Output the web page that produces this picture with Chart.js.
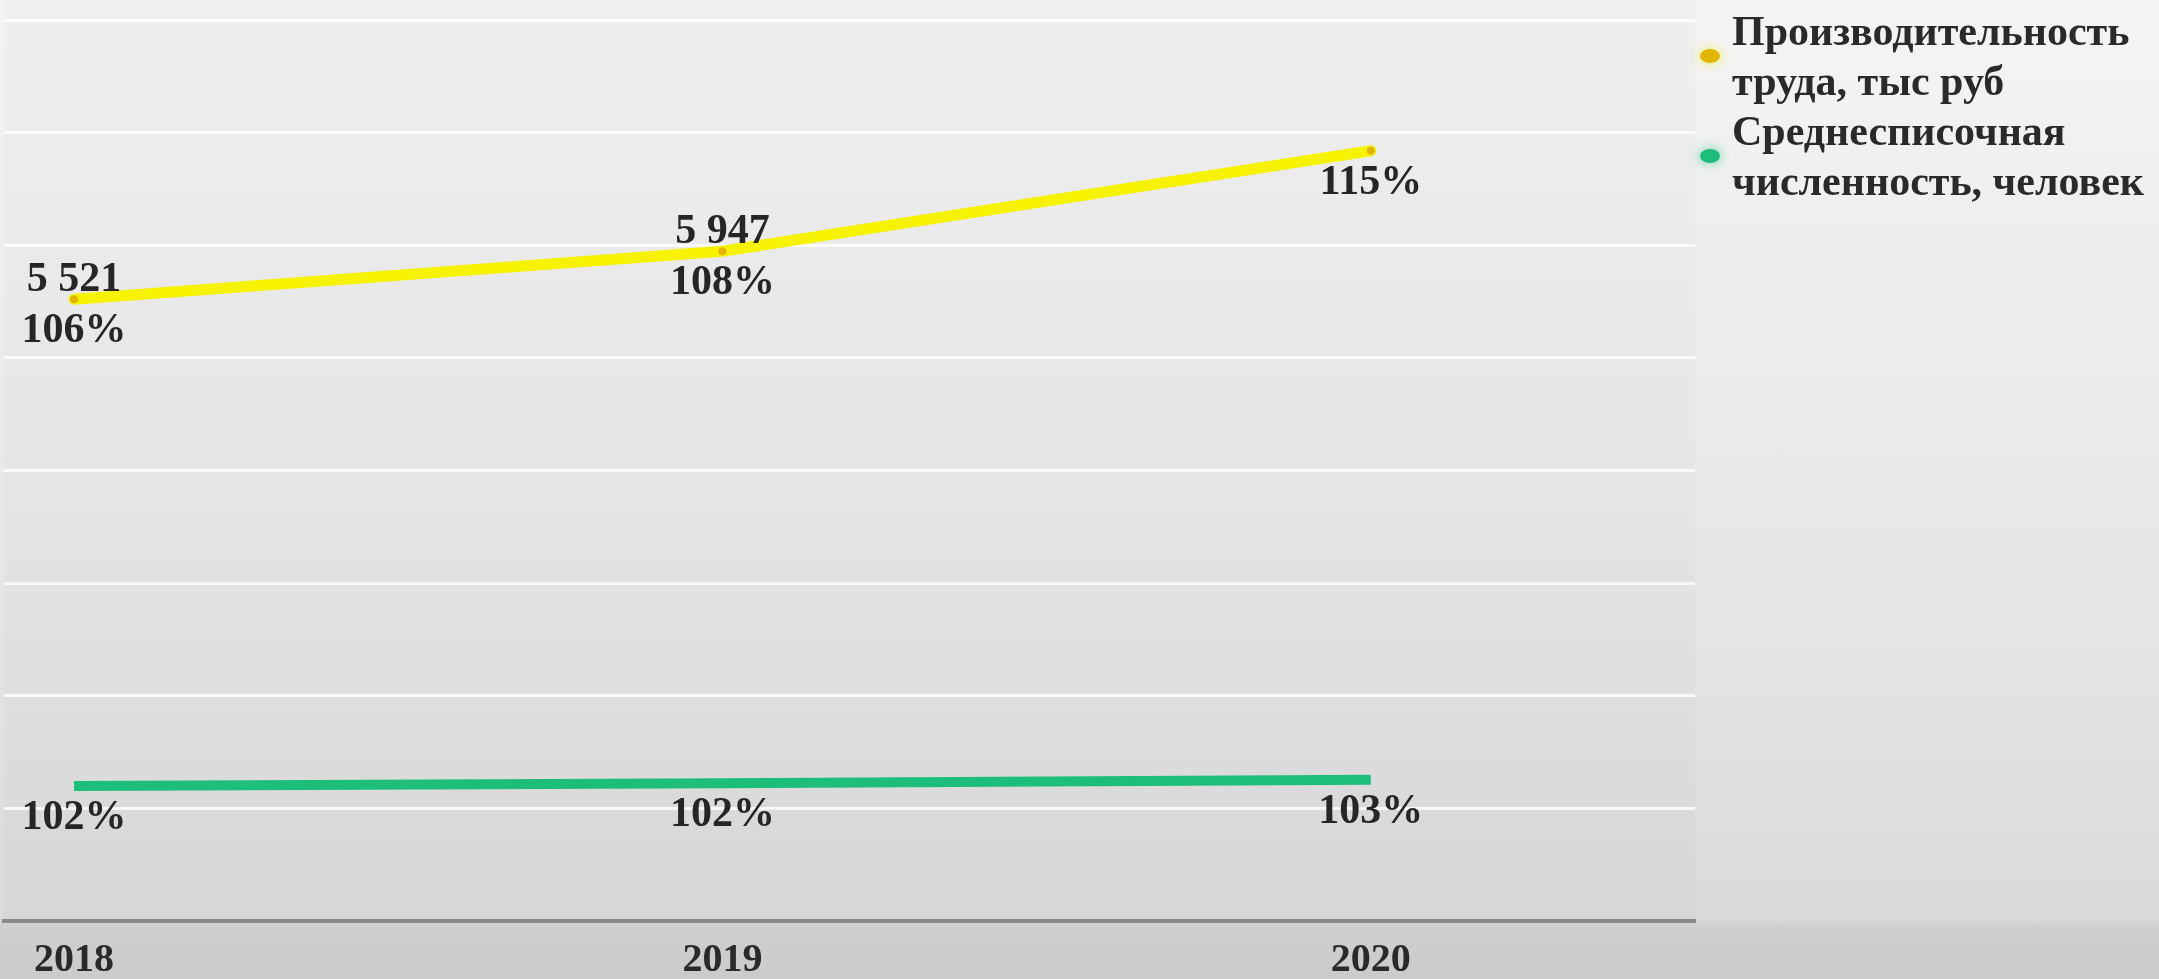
<!DOCTYPE html>
<html lang="ru">
<head>
<meta charset="utf-8">
<script src="https://cdn.jsdelivr.net/npm/chart.js@4"></script>
<style>
  html, body {
    margin: 0;
    padding: 0;
    width: 2159px;
    height: 979px;
    overflow: hidden;
    background: linear-gradient(to bottom, #f4f4f4 0px, #e6e6e6 600px, #dadada 918px, #cfcfcf 926px, #cbcbcb 979px);
  }
  #wrap { position: relative; width: 2159px; height: 979px; }
  canvas { position: absolute; left: 0; top: 0; }
  .legend {
    position: absolute;
    left: 1700px;
    top: 6px;
    font-family: "Liberation Serif", "DejaVu Serif", serif;
    font-weight: bold;
    font-size: 42px;
    line-height: 50px;
    color: #2a2a2a;
    white-space: nowrap;
  }
  .legend .item { position: relative; padding-left: 32px; }
  .legend .dot {
    position: absolute;
    left: 0;
    width: 20px;
    height: 14px;
    border-radius: 50%;
  }
</style>
</head>
<body>
<div id="wrap">
  <canvas id="chart" width="2159" height="979"></canvas>
  <div class="legend" id="legend"></div>
</div>
<script>
// данные
const years = [2018, 2019, 2020];
const productivity = [5521, 5947, 6839];          // тыс руб
const productivityGrowth = ['106%', '108%', '115%'];
const productivityValueShown = [true, true, false];
const headcount = [1199, 1223, 1255];              // человек
const headcountGrowth = ['102%', '102%', '103%'];
const yTicks = [0, 1000, 2000, 3000, 4000, 5000, 6000, 7000, 8000];

const seriesNames = [
    ['Производительность', 'труда, тыс руб'],
    ['Среднесписочная', 'численность, человек']
];
const seriesColors = ['#f6f200', '#1dbd7a'];
const pointColors = ['#e2b600', '#1dbd7a'];

// число с пробелом между разрядами
function formatNumber(v) {
    return String(v).replace(/\B(?=(\d{3})+(?!\d))/g, ' ');
}

// заливка области построения
const plotFill = {
    id: 'plotFill',
    beforeDraw(chart) {
        const { ctx, chartArea } = chart;
        const g = ctx.createLinearGradient(0, 0, 0, chartArea.bottom);
        g.addColorStop(0, '#efefef');
        g.addColorStop(0.5, '#e6e6e6');
        g.addColorStop(1, '#d6d6d6');
        ctx.save();
        ctx.fillStyle = g;
        ctx.fillRect(chartArea.left, 0, chartArea.right - chartArea.left, chartArea.bottom);
        ctx.restore();
    }
};

// подписи данных
const dataLabels = {
    id: 'dataLabels',
    afterDatasetsDraw(chart) {
        const ctx = chart.ctx;
        ctx.save();
        ctx.font = 'bold 42px "Liberation Serif", serif';
        ctx.fillStyle = '#262626';
        ctx.textAlign = 'center';
        ctx.textBaseline = 'alphabetic';

        const prod = chart.getDatasetMeta(0).data;
        prod.forEach((pt, i) => {
            if (productivityValueShown[i]) {
                ctx.fillText(formatNumber(productivity[i]), pt.x, pt.y - 8);
            }
            ctx.fillText(productivityGrowth[i], pt.x, pt.y + 43);
        });

        const head = chart.getDatasetMeta(1).data;
        head.forEach((pt, i) => {
            ctx.fillText(headcountGrowth[i], pt.x, pt.y + 43);
        });
        ctx.restore();
    }
};

const ctx = document.getElementById('chart').getContext('2d');

new Chart(ctx, {
    type: 'line',
    data: {
        datasets: [
            {
                label: seriesNames[0].join(' '),
                data: years.map((y, i) => ({ x: y, y: productivity[i] })),
                borderColor: seriesColors[0],
                borderWidth: 11,
                borderCapStyle: 'round',
                pointRadius: 4,
                pointBorderWidth: 0,
                pointBackgroundColor: pointColors[0],
                tension: 0
            },
            {
                label: seriesNames[1].join(' '),
                data: years.map((y, i) => ({ x: y, y: headcount[i] })),
                borderColor: seriesColors[1],
                borderWidth: 10,
                borderCapStyle: 'butt',
                pointRadius: 0,
                tension: 0
            }
        ]
    },
    options: {
        responsive: false,
        animation: false,
        devicePixelRatio: 1,
        layout: { padding: { left: 0, right: 464, top: 20, bottom: 0 } },
        plugins: {
            legend: { display: false },
            tooltip: { enabled: false }
        },
        scales: {
            x: {
                type: 'linear',
                min: 2017.892,
                max: 2020.5,
                afterBuildTicks: axis => {
                    axis.ticks = years.map(v => ({ value: v }));
                },
                afterFit: scale => { scale.height = 58; },
                grid: { display: false, drawTicks: false },
                border: { display: true, color: '#8a8a8a', width: 4 },
                ticks: {
                    autoSkip: false,
                    maxRotation: 0,
                    padding: 16,
                    color: '#2a2a2a',
                    font: { family: '"Liberation Serif", serif', size: 40, weight: 'bold' },
                    callback: v => String(v)
                }
            },
            y: {
                min: yTicks[0],
                max: yTicks[yTicks.length - 1],
                afterBuildTicks: axis => {
                    axis.ticks = yTicks.map(v => ({ value: v }));
                },
                afterFit: scale => { scale.width = 0; },
                ticks: { display: false },
                border: { display: false },
                grid: {
                    color: 'rgba(255,255,255,0.8)',
                    lineWidth: 3,
                    drawTicks: false
                }
            }
        }
    },
    plugins: [plotFill, dataLabels]
});

// легенда
const legend = document.getElementById('legend');
seriesNames.forEach((lines, i) => {
    const item = document.createElement('div');
    item.className = 'item';
    item.innerHTML = `<span class="dot" style="top:43px;background:${pointColors[i]};box-shadow:0 0 8px 3px ${seriesColors[i]}55"></span>` +
        lines.map(t => `<div>${t}</div>`).join('');
    legend.appendChild(item);
});
</script>
</body>
</html>
